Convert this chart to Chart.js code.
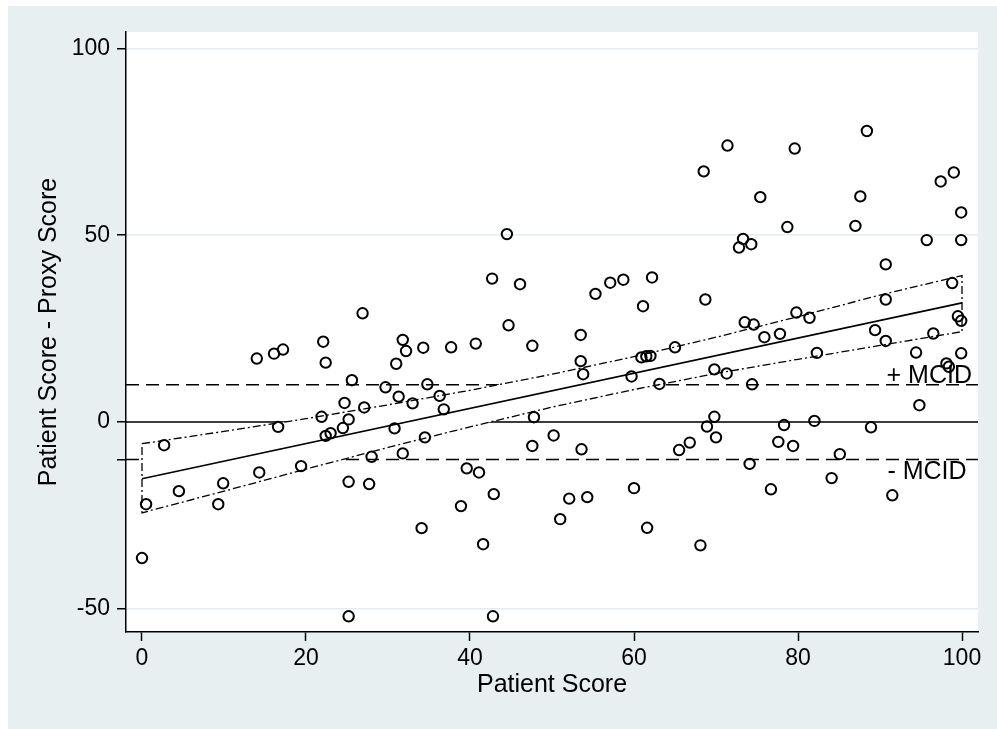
<!DOCTYPE html>
<html><head><meta charset="utf-8">
<script src="https://cdn.jsdelivr.net/npm/chart.js@4.4.1/dist/chart.umd.min.js"></script>
<style>html,body{margin:0;padding:0;background:#fff;}</style>
</head><body>
<canvas id="c" width="997" height="729"></canvas>
<script>
// ---- data ----
const xTickValues = [0, 20, 40, 60, 80, 100];
const yTickValues = [-50, -10, 0, 50, 100];
const yTickLabels = { '-50': '-50', '-10': '', '0': '0', '50': '50', '100': '100' };
const patientScore = [
  0.0, 0.5, 2.7, 4.5, 9.3, 9.9, 14.0, 14.3, 16.1, 16.6, 17.2, 19.4, 21.9, 22.1, 22.4, 22.4, 23.0, 24.5, 24.7, 25.2,
  25.2, 25.2, 25.6, 26.9, 27.1, 27.7, 28.0, 29.7, 30.8, 31.0, 31.3, 31.8, 31.8, 32.2, 33.0, 34.1, 34.3, 34.5, 34.8, 36.3,
  36.8, 37.7, 38.9, 39.6, 40.7, 41.1, 41.6, 42.7, 42.8, 42.9, 44.5, 44.7, 46.1, 47.6, 47.6, 47.8, 50.2, 51.0, 52.1, 53.5,
  53.5, 53.6, 53.8, 54.3, 55.3, 57.1, 58.7, 59.7, 60.0, 60.9, 61.1, 61.5, 61.6, 62.0, 62.2, 63.1, 65.0, 65.5, 66.8, 68.1,
  68.5, 68.7, 68.9, 69.8, 69.8, 70.0, 71.3, 71.4, 72.8, 73.3, 73.5, 74.1, 74.3, 74.4, 74.6, 75.4, 75.9, 76.7, 77.6, 77.8,
  78.3, 78.7, 79.4, 79.6, 79.8, 81.4, 82.0, 82.3, 84.1, 85.1, 87.0, 87.6, 88.4, 88.9, 89.4, 90.7, 90.7, 90.7, 91.5, 94.4,
  94.8, 95.7, 96.5, 97.4, 98.1, 98.4, 98.8, 99.0, 99.5, 99.9, 99.9, 99.9, 99.9
];
const scoreDifference = [
  -36.4, -22.0, -6.2, -18.5, -22.0, -16.4, 17.0, -13.5, 18.3, -1.3, 19.4, -11.8, 1.4, 21.5, 15.9, -3.7, -3.0, -1.6, 5.1, 0.7,
  -16.0, -52.0, 11.2, 29.1, 3.9, -16.6, -9.3, 9.3, -1.7, 15.6, 6.8, 22.0, -8.4, 19.0, 5.0, -28.4, 19.9, -4.1, 10.1, 7.0,
  3.4, 20.0, -22.5, -12.4, 21.0, -13.5, -32.7, 38.4, -52.0, -19.3, 50.3, 25.9, 36.9, 20.4, -6.4, 1.3, -3.6, -26.0, -20.5, 23.3,
  16.3, -7.3, 12.8, -20.1, 34.3, 37.3, 38.1, 12.2, -17.7, 17.3, 31.0, 17.6, -28.3, 17.7, 38.7, 10.2, 20.0, -7.5, -5.5, -33.0,
  67.1, 32.8, -1.2, 14.1, 1.4, -4.1, 13.0, 74.0, 46.7, 49.0, 26.7, -11.2, 47.6, 10.1, 26.1, 60.2, 22.7, -18.0, -5.3, 23.6,
  -0.8, 52.2, -6.4, 73.2, 29.3, 27.9, 0.3, 18.5, -15.0, -8.6, 52.5, 60.4, 77.9, -1.4, 24.6, 42.2, 32.8, 21.7, -19.6, 18.6,
  4.5, 48.7, 23.7, 64.4, 15.7, 14.8, 37.2, 66.8, 28.3, 56.1, 48.7, 27.1, 18.4
];
const fitX = [0, 100];
const fitY = [-15.2, 31.9];
const ciX = [0, 10, 20, 30, 40, 50, 60, 70, 80, 90, 100];
const ciUpper = [-5.8, -2.5, 0.9, 4.6, 8.5, 12.8, 17.5, 22.7, 28.2, 34.0, 39.2];
const ciLower = [-24.3, -18.5, -12.6, -6.8, -1.3, 4.0, 8.7, 13.0, 16.8, 20.5, 24.2];
const zeroLine = 0;
const mcidValues = [10, -10];
const mcidLabels = ['+ MCID', '- MCID'];
const xTitle = 'Patient Score';
const yTitle = 'Patient Score - Proxy Score';

// ---- layout / style ----
const X_MIN = -1.95, X_MAX = 101.95, Y_MIN = -56.2, Y_MAX = 104.4;
const FONT = "'Liberation Sans', Arial, Helvetica, sans-serif";
const BG = '#e8eff1';
const GRID = '#e4ecef';

const points = patientScore.map((x, i) => ({ x, y: scoreDifference[i] }));
const fitData = fitX.map((x, i) => ({ x, y: fitY[i] }));
const band = ciX.map((x, i) => ({ x, y: ciUpper[i] }))
  .concat(ciX.map((x, i) => ({ x, y: ciLower[i] })).reverse());
band.push({ x: ciX[0], y: ciUpper[0] });
const hline = v => [{ x: X_MIN, y: v }, { x: X_MAX, y: v }];

const bgPlugin = {
  id: 'bg',
  beforeDraw(chart) {
    const { ctx, chartArea: a } = chart;
    ctx.save();
    ctx.fillStyle = '#fff';
    ctx.fillRect(0, 0, chart.width, chart.height);
    ctx.fillStyle = BG;
    ctx.fillRect(8, 6, chart.width - 8, chart.height - 6);
    ctx.fillStyle = '#fff';
    ctx.fillRect(a.left, a.top, a.right - a.left, a.bottom - a.top);
    ctx.restore();
  }
};
const labelPlugin = {
  id: 'mcidLabels',
  afterDatasetsDraw(chart) {
    const { ctx, scales: { x, y } } = chart;
    ctx.save();
    ctx.fillStyle = '#000';
    ctx.font = '25px ' + FONT;
    ctx.textAlign = 'left';
    ctx.textBaseline = 'alphabetic';
    ctx.fillText(mcidLabels[0], x.getPixelForValue(90.8), y.getPixelForValue(mcidValues[0]) - 2);
    ctx.fillText(mcidLabels[1], x.getPixelForValue(90.9), y.getPixelForValue(mcidValues[1]) + 20);
    ctx.restore();
  }
};

new Chart(document.getElementById('c'), {
  type: 'line',
  data: {
    datasets: [
      { label: 'points', data: points, showLine: false, pointRadius: 5.2, pointHoverRadius: 5.2,
        pointBorderWidth: 2, pointBorderColor: '#000', pointBackgroundColor: 'rgba(0,0,0,0)', order: 0 },
      { label: 'fit', data: fitData, borderColor: '#000', borderWidth: 1.6, pointRadius: 0, tension: 0, order: 1 },
      { label: 'ci', data: band, borderColor: '#000', borderWidth: 1.3, borderDash: [8, 3, 2, 3],
        pointRadius: 0, tension: 0, fill: 'shape', backgroundColor: '#fff', order: 2 },
      { label: 'zero', data: hline(zeroLine), borderColor: '#000', borderWidth: 1.5, pointRadius: 0, order: 3 },
      { label: 'mcidPlus', data: hline(mcidValues[0]), borderColor: '#000', borderWidth: 1.5, borderDash: [13, 7], pointRadius: 0, order: 3 },
      { label: 'mcidMinus', data: hline(mcidValues[1]), borderColor: '#000', borderWidth: 1.5, borderDash: [13, 7], pointRadius: 0, order: 3 }
    ]
  },
  options: {
    responsive: false,
    animation: false,
    events: [],
    layout: { padding: { left: 0, top: 32, right: 19, bottom: 0 } },
    plugins: { legend: { display: false }, tooltip: { enabled: false } },
    scales: {
      x: {
        type: 'linear', min: X_MIN, max: X_MAX,
        afterBuildTicks: s => { s.ticks = xTickValues.map(v => ({ value: v })); },
        afterFit: s => { s.height = 97; },
        grid: { drawOnChartArea: false, drawTicks: true, tickLength: 9, tickColor: '#000', tickWidth: 1.5 },
        border: { display: true, color: '#000', width: 1.5 },
        ticks: { autoSkip: false, maxRotation: 0, color: '#000', padding: 4, font: { family: FONT, size: 23 } },
        title: { display: true, text: xTitle, color: '#000', font: { family: FONT, size: 25 }, padding: { top: 0, bottom: 29 } }
      },
      y: {
        type: 'linear', min: Y_MIN, max: Y_MAX,
        afterBuildTicks: s => { s.ticks = yTickValues.map(v => ({ value: v })); },
        afterFit: s => { s.width = 126; },
        grid: {
          color: c => (c.tick && c.tick.value === mcidValues[1]) ? 'rgba(0,0,0,0)' : GRID,
          lineWidth: 1.5, drawTicks: true, tickLength: 9, tickColor: '#000', tickWidth: 1.5
        },
        border: { display: true, color: '#000', width: 1.5 },
        ticks: { autoSkip: false, color: '#000', padding: 7, font: { family: FONT, size: 23 },
          callback: v => yTickLabels[String(v)] },
        title: { display: true, text: yTitle, color: '#000', font: { family: FONT, size: 25 }, padding: { top: 34, bottom: 0 } }
      }
    }
  },
  plugins: [bgPlugin, labelPlugin]
});
</script>
</body></html>
